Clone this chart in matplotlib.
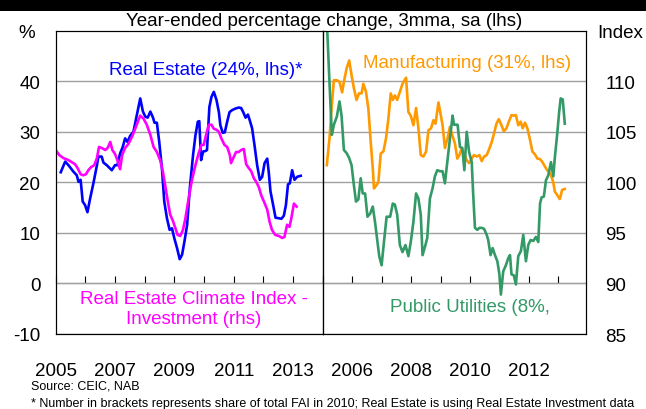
import matplotlib

matplotlib.use("Agg")
import matplotlib.pyplot as plt  # noqa: E402
from matplotlib.patches import Rectangle  # noqa: E402

plt.rcParams["font.family"] = ["Liberation Sans", "DejaVu Sans"]
plt.rcParams["axes.unicode_minus"] = False

# ---- data (decimal years; lhs values in %, rhs values as index) ----
re_years = [2005.17, 2005.32, 2005.43, 2005.60, 2005.71, 2005.77, 2005.84, 2005.91, 2005.99, 2006.07,
            2006.16, 2006.27, 2006.39, 2006.44, 2006.55, 2006.61, 2006.72, 2006.89, 2007.00, 2007.08,
            2007.17, 2007.26, 2007.34, 2007.42, 2007.51, 2007.62, 2007.71, 2007.79, 2007.85, 2007.94,
            2008.02, 2008.10, 2008.19, 2008.28, 2008.33, 2008.41, 2008.49, 2008.58, 2008.66, 2008.75,
            2008.84, 2008.92, 2009.00, 2009.09, 2009.18, 2009.26, 2009.34, 2009.43, 2009.52, 2009.63,
            2009.71, 2009.79, 2009.84, 2009.90, 2009.97, 2010.05, 2010.10, 2010.18, 2010.25, 2010.33,
            2010.42, 2010.50, 2010.55, 2010.63, 2010.70, 2010.78, 2010.86, 2010.95, 2011.06, 2011.17,
            2011.25, 2011.32, 2011.40, 2011.48, 2011.54, 2011.62, 2011.70, 2011.79, 2011.88, 2011.96,
            2012.04, 2012.13, 2012.18, 2012.24, 2012.33, 2012.41, 2012.52, 2012.61, 2012.69, 2012.76,
            2012.83, 2012.89, 2012.97, 2013.05, 2013.14, 2013.26]
real_estate = [22.0, 24.1, 23.4, 22.1, 21.4, 20.1, 20.5, 16.2, 15.5, 14.1,
               16.8, 19.8, 23.4, 25.1, 25.1, 23.9, 23.4, 22.4, 23.4, 23.4,
               25.7, 27.0, 28.7, 28.0, 29.2, 30.0, 32.6, 34.9, 36.6, 34.0,
               33.0, 32.8, 34.0, 32.8, 31.8, 31.8, 28.0, 22.8, 16.2, 12.9,
               10.6, 10.9, 8.9, 7.0, 4.8, 5.7, 8.3, 11.6, 18.8, 25.4,
               29.3, 32.0, 32.1, 24.4, 26.1, 26.2, 26.4, 34.9, 36.9, 37.9,
               36.3, 33.9, 31.3, 29.8, 29.9, 32.0, 33.9, 34.3, 34.6, 34.8,
               34.7, 33.9, 32.8, 33.4, 32.3, 30.7, 27.4, 23.4, 20.5, 21.1,
               23.8, 24.7, 22.1, 18.2, 15.5, 13.0, 12.9, 12.8, 13.4, 15.5,
               19.6, 19.8, 22.4, 20.5, 21.1, 21.3]

climate_years = [2005.00, 2005.12, 2005.26, 2005.43, 2005.54, 2005.65, 2005.74, 2005.84, 2005.93, 2006.02,
                 2006.10, 2006.19, 2006.30, 2006.39, 2006.46, 2006.55, 2006.67, 2006.75, 2006.84, 2006.91,
                 2007.00, 2007.08, 2007.17, 2007.24, 2007.34, 2007.45, 2007.57, 2007.68, 2007.77, 2007.85,
                 2007.96, 2008.07, 2008.19, 2008.30, 2008.41, 2008.52, 2008.61, 2008.69, 2008.78, 2008.86,
                 2008.95, 2009.03, 2009.11, 2009.20, 2009.29, 2009.37, 2009.48, 2009.59, 2009.71, 2009.82,
                 2009.91, 2009.99, 2010.07, 2010.16, 2010.25, 2010.33, 2010.42, 2010.50, 2010.59, 2010.69,
                 2010.78, 2010.87, 2010.91, 2011.00, 2011.08, 2011.17, 2011.25, 2011.34, 2011.42, 2011.51,
                 2011.59, 2011.68, 2011.77, 2011.85, 2011.93, 2012.02, 2012.13, 2012.21, 2012.29, 2012.40,
                 2012.52, 2012.64, 2012.71, 2012.80, 2012.88, 2012.94, 2013.03, 2013.12]
climate_index = [103.2, 102.7, 102.4, 102.2, 102.0, 101.8, 101.4, 100.8, 100.7, 100.8,
                 101.2, 101.5, 101.7, 102.4, 103.5, 103.4, 103.2, 103.4, 104.0, 103.2,
                 102.8, 102.2, 101.3, 102.7, 103.4, 103.8, 104.5, 105.3, 106.0, 106.6,
                 106.3, 105.7, 104.7, 103.5, 103.0, 102.2, 101.1, 99.7, 98.1, 96.8,
                 96.2, 95.5, 94.8, 94.7, 95.3, 96.4, 98.4, 100.2, 101.7, 102.9,
                 103.7, 103.7, 104.7, 105.7, 105.7, 105.3, 105.2, 105.0, 104.3, 103.7,
                 103.5, 102.7, 101.9, 102.5, 103.0, 103.0, 103.2, 103.3, 101.8, 101.4,
                 101.1, 100.4, 100.0, 99.5, 98.7, 98.1, 97.3, 96.1, 95.3, 94.8,
                 94.7, 94.5, 94.6, 95.8, 95.6, 96.4, 97.9, 97.6]

mfg_years = [2005.14, 2005.23, 2005.31, 2005.38, 2005.48, 2005.57, 2005.66, 2005.72, 2005.81, 2005.90,
             2005.98, 2006.06, 2006.15, 2006.23, 2006.32, 2006.38, 2006.47, 2006.55, 2006.63, 2006.70,
             2006.74, 2006.81, 2006.89, 2006.97, 2007.06, 2007.15, 2007.23, 2007.31, 2007.38, 2007.45,
             2007.53, 2007.62, 2007.71, 2007.83, 2007.91, 2007.99, 2008.08, 2008.17, 2008.25, 2008.33,
             2008.42, 2008.51, 2008.59, 2008.68, 2008.76, 2008.83, 2008.93, 2009.00, 2009.07, 2009.15,
             2009.24, 2009.32, 2009.40, 2009.49, 2009.57, 2009.64, 2009.72, 2009.80, 2009.89, 2009.97,
             2010.06, 2010.14, 2010.23, 2010.32, 2010.40, 2010.48, 2010.57, 2010.66, 2010.74, 2010.81,
             2010.90, 2010.98, 2011.07, 2011.15, 2011.24, 2011.32, 2011.41, 2011.49, 2011.56, 2011.64,
             2011.72, 2011.79, 2011.87, 2011.95, 2012.04, 2012.12, 2012.21, 2012.29, 2012.38, 2012.45,
             2012.55, 2012.62, 2012.69, 2012.77, 2012.83, 2012.88, 2012.96, 2013.05, 2013.13, 2013.22]
manufacturing = [23.4, 28.7, 35.3, 40.2, 40.2, 39.9, 37.8, 39.9, 42.5, 44.1,
                 41.2, 38.6, 36.3, 37.6, 37.6, 39.5, 37.9, 34.6, 28.0, 22.8,
                 18.8, 19.3, 20.0, 25.7, 26.1, 28.7, 32.6, 37.6, 36.3, 37.2,
                 36.3, 37.9, 39.5, 40.7, 33.9, 33.2, 31.3, 34.7, 30.7, 25.4,
                 25.1, 26.1, 30.3, 30.7, 32.3, 31.6, 35.8, 33.6, 31.3, 26.8,
                 28.7, 31.0, 29.3, 27.7, 24.7, 25.4, 26.7, 25.7, 24.4, 23.8,
                 24.7, 25.4, 25.1, 25.4, 24.2, 25.1, 25.4, 26.7, 28.0, 29.5,
                 31.6, 32.5, 31.3, 30.1, 30.7, 32.0, 33.3, 33.2, 33.3, 31.3,
                 32.0, 30.7, 31.8, 30.7, 28.4, 26.1, 25.5, 24.7, 24.6, 24.1,
                 23.1, 22.4, 22.1, 21.1, 20.0, 18.2, 17.5, 16.7, 18.5, 18.7]

util_years = [2005.14, 2005.23, 2005.31, 2005.38, 2005.48, 2005.57, 2005.64, 2005.72, 2005.81, 2005.90,
              2005.98, 2006.06, 2006.13, 2006.21, 2006.29, 2006.36, 2006.44, 2006.52, 2006.61, 2006.70,
              2006.78, 2006.86, 2006.92, 2007.00, 2007.08, 2007.17, 2007.29, 2007.38, 2007.45, 2007.53,
              2007.62, 2007.71, 2007.81, 2007.91, 2007.99, 2008.08, 2008.17, 2008.25, 2008.33, 2008.39,
              2008.48, 2008.55, 2008.64, 2008.73, 2008.81, 2008.89, 2008.98, 2009.07, 2009.15, 2009.23,
              2009.32, 2009.41, 2009.46, 2009.53, 2009.58, 2009.66, 2009.74, 2009.81, 2009.89, 2009.97,
              2010.06, 2010.11, 2010.17, 2010.25, 2010.32, 2010.40, 2010.48, 2010.57, 2010.62, 2010.70,
              2010.77, 2010.85, 2010.93, 2011.00, 2011.05, 2011.13, 2011.22, 2011.30, 2011.36, 2011.41,
              2011.49, 2011.56, 2011.64, 2011.73, 2011.81, 2011.90, 2011.98, 2012.06, 2012.15, 2012.24,
              2012.32, 2012.38, 2012.43, 2012.51, 2012.58, 2012.66, 2012.75, 2012.83, 2012.88, 2012.96,
              2013.03, 2013.08, 2013.15, 2013.22]
utilities = [116.0, 109.9, 104.7, 105.7, 106.5, 108.0, 106.6, 103.2, 102.9, 102.4,
             101.7, 99.7, 98.1, 98.3, 100.4, 98.9, 98.9, 96.6, 96.9, 97.6,
             96.0, 94.1, 92.7, 91.8, 94.1, 96.6, 96.6, 97.9, 97.8, 96.8,
             93.8, 93.1, 93.8, 92.7, 94.1, 96.1, 98.9, 98.4, 96.8, 92.8,
             93.7, 94.5, 98.4, 99.4, 100.6, 101.2, 101.1, 101.1, 99.9, 102.0,
             104.3, 106.6, 105.7, 105.7, 105.7, 103.5, 103.4, 101.2, 105.0, 103.0,
             102.0, 98.8, 95.5, 95.3, 95.5, 95.5, 95.4, 94.8, 94.3, 92.8,
             93.5, 92.8, 92.2, 90.9, 88.9, 91.2, 91.8, 92.5, 92.8, 90.9,
             90.8, 89.9, 92.7, 93.2, 94.8, 92.2, 93.8, 94.3, 94.2, 94.6,
             94.1, 97.9, 98.5, 98.6, 100.2, 100.7, 102.0, 100.6, 102.4, 104.7,
             107.0, 108.3, 108.2, 105.8]

lhs_ticks = [-10, 0, 10, 20, 30, 40]
rhs_ticks = [85, 90, 95, 100, 105, 110]
left_year_labels = [2005, 2007, 2009, 2011, 2013]
right_year_labels = [2006, 2008, 2010, 2012]

BLUE = "#0000ff"
MAGENTA = "#ff00ff"
ORANGE = "#ff9900"
GREEN = "#339966"
GRID = "#a0a0a0"

LHS_LIM = (-10, 50)
RHS_LIM = (85, 115)

fig = plt.figure(figsize=(6.46, 4.10), dpi=100)
W, H = 646, 410


def fx(px):
    return px / W


def fy(py):
    return 1 - py / H


ax1 = fig.add_axes([fx(55.7), fy(335), fx(322.7 - 55.7), (335 - 31.7) / H])
ax2 = fig.add_axes([fx(322.7), fy(335), fx(585.7 - 322.7), (335 - 31.7) / H], sharey=ax1)
ax1r = ax1.twinx()
ax2r = ax2.twinx()

ax1.set_xlim(2005, 2014)
ax2.set_xlim(2005, 2013.93)
ax1.set_ylim(*LHS_LIM)
ax1r.set_ylim(*RHS_LIM)
ax2r.set_ylim(*RHS_LIM)

ax1.plot(re_years, real_estate, color=BLUE, lw=1.9)
ax1r.plot(climate_years, climate_index, color=MAGENTA, lw=1.9)
ax2.plot(mfg_years, manufacturing, color=ORANGE, lw=1.9)
ax2r.plot(util_years, utilities, color=GREEN, lw=1.9)

for ax in (ax1, ax2, ax1r, ax2r):
    for sp in ax.spines.values():
        sp.set_linewidth(0.8)
        sp.set_color("black")

ax1.set_yticks(lhs_ticks)
ax1.yaxis.grid(True, color=GRID, lw=1.0)
ax2.yaxis.grid(True, color=GRID, lw=1.0)
ax1.set_axisbelow(True)
ax2.set_axisbelow(True)
ax1.tick_params(axis="y", length=0, pad=11, labelsize=13.5)
ax2.tick_params(axis="y", length=0, labelleft=False)
ax1r.tick_params(axis="y", length=0, labelright=False)
ax1r.set_yticks([])
ax2r.set_yticks(rhs_ticks)
ax2r.tick_params(axis="y", length=0, pad=14, labelsize=13.5)

ax1.set_xticks(left_year_labels)
ax2.set_xticks(right_year_labels)
for ax in (ax1, ax2):
    ax.tick_params(axis="x", length=0, pad=20, labelsize=13.5)

# zero line with yearly ticks pointing up
zero_loc = (0 - LHS_LIM[0]) / (LHS_LIM[1] - LHS_LIM[0])
for ax, yrs in ((ax1, range(2005, 2015)), (ax2, range(2005, 2014))):
    sec = ax.secondary_xaxis(zero_loc)
    sec.set_xticks(list(yrs))
    sec.tick_params(direction="in", length=5, width=0.8, labelbottom=False, labeltop=False)
    for sp in sec.spines.values():
        sp.set_linewidth(0.8)
        sp.set_color("black")

# series labels
ax1.text(2010.07, 42.3, "Real Estate (24%, lhs)*", color=BLUE, fontsize=13.5,
         ha="center", va="center")
ax1.text(2009.66, -4.9, "Real Estate Climate Index -\nInvestment (rhs)", color=MAGENTA,
         fontsize=13.5, ha="center", va="center", linespacing=1.2)
ax2.text(2009.9, 43.8, "Manufacturing (31%, lhs)", color=ORANGE, fontsize=13.5,
         ha="center", va="center")
ax2.text(2010.0, -4.5, "Public Utilities (8%,", color=GREEN, fontsize=13.5,
         ha="center", va="center")

fig.text(fx(324), fy(21), "Year-ended percentage change, 3mma, sa (lhs)", fontsize=13.5,
         ha="center", va="center")
fig.text(fx(27), fy(33), "%", fontsize=13.5, ha="center", va="center")
fig.text(fx(620), fy(33), "Index", fontsize=13.5, ha="center", va="center")

fig.text(fx(31), fy(387), "Source: CEIC, NAB", fontsize=9, va="center")
fig.text(fx(31), fy(404),
         "* Number in brackets represents share of total FAI in 2010; "
         "Real Estate is using Real Estate Investment data",
         fontsize=9, va="center")

fig.add_artist(Rectangle((0, fy(12)), 1, 12 / H, transform=fig.transFigure,
                         color="black", lw=0))

fig.savefig("out.png", dpi=100)
